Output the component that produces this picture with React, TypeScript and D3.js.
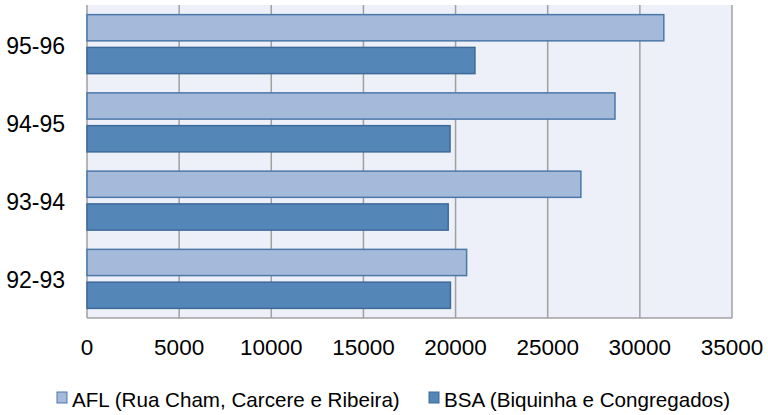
import React from "react";
import * as d3 from "d3";

const categories = ["95-96", "94-95", "93-94", "92-93"];
const seriesNames = ["AFL (Rua Cham, Carcere e Ribeira)", "BSA (Biquinha e Congregados)"];
const aflValues = [31300, 28650, 26800, 20600];
const bsaValues = [21050, 19700, 19600, 19720];
const xTicks = [0, 5000, 10000, 15000, 20000, 25000, 30000, 35000];

const W = 768, H = 415;
const left = 87, right = 732, top = 5, bottom = 318;
const fills = ["#A5B9DA", "#5586B8"];
const strokes = ["#4A78A8", "#3D6A99"];

export default function App() {
  const x = d3.scaleLinear().domain([0, 35000]).range([left, right]);
  const y = d3.scaleBand().domain(categories).range([top, bottom]).paddingInner(0.246).paddingOuter(0.123);
  const sub = d3.scaleBand().domain(["0", "1"]).range([0, y.bandwidth()]).paddingInner(0.2);
  const series = [aflValues, bsaValues];
  const font = "'Liberation Sans', Arial, sans-serif";
  return (
    <svg width={W} height={H} style={{ position: "absolute", left: 0, top: 0 }} fontFamily={font}>
      <rect x={0} y={0} width={W} height={H} fill="#fff" />
      <rect x={left} y={top} width={right - left} height={bottom - top} fill="#EDF0F8" />
      {xTicks.map((t) => (
        <line key={t} x1={x(t)} x2={x(t)} y1={top} y2={bottom} stroke="#A0A0A0" strokeWidth={1.5} />
      ))}
      <line x1={left} x2={right} y1={bottom} y2={bottom} stroke="#A0A0A0" strokeWidth={1.5} />
      {categories.map((c, i) =>
        series.map((vals, s) => (
          <rect
            key={c + s}
            x={x(0)}
            y={(y(c) as number) + (sub(String(s)) as number)}
            width={x(vals[i]) - x(0)}
            height={sub.bandwidth()}
            fill={fills[s]}
            stroke={strokes[s]}
            strokeWidth={1.5}
          />
        ))
      )}
      {categories.map((c) => (
        <text key={c} x={65} y={(y(c) as number) + y.bandwidth() / 2 + 3.5} textAnchor="end" dominantBaseline="middle" fontSize={23} fill="#000">
          {c}
        </text>
      ))}
      {xTicks.map((t) => (
        <text key={t} x={x(t)} y={355} textAnchor="middle" fontSize={22.5} fill="#000">
          {t}
        </text>
      ))}
      <g>
        <rect x={57} y={392} width={10} height={11} fill={fills[0]} stroke={strokes[0]} strokeWidth={1} />
        <text x={72} y={407} fontSize={20.6} fill="#000">{seriesNames[0]}</text>
        <rect x={429} y={392} width={10} height={11} fill={fills[1]} stroke={strokes[1]} strokeWidth={1} />
        <text x={444} y={407} fontSize={20.6} fill="#000">{seriesNames[1]}</text>
      </g>
    </svg>
  );
}
